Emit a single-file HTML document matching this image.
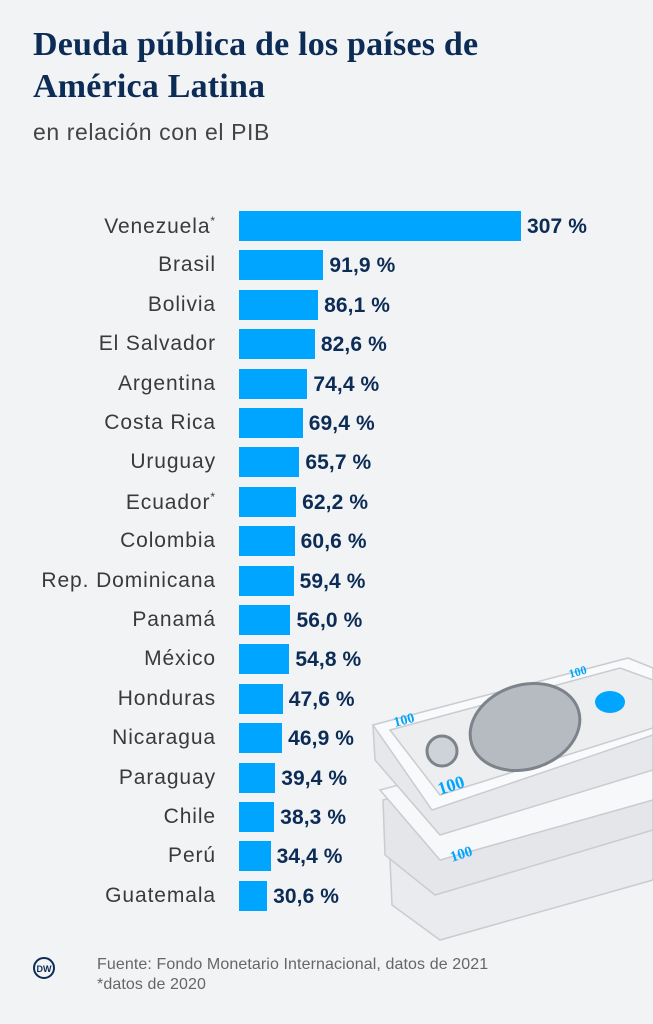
<!DOCTYPE html>
<html><head><meta charset="utf-8"><style>
body{margin:0;width:653px;height:1024px;background:#f1f3f5;position:relative;overflow:hidden;font-family:"Liberation Sans","DejaVu Sans",sans-serif}
.t{position:absolute;left:33px;font-family:"Liberation Serif",serif;font-weight:bold;color:#0c2c56;font-size:34px;letter-spacing:0.2px}
.sub{position:absolute;left:33px;top:119px;font-size:23px;letter-spacing:0.6px;color:#444}
.l{position:absolute;right:437px;font-size:21px;letter-spacing:0.9px;color:#3a3a3a;white-space:nowrap}
.b{position:absolute;left:239px;height:30px;background:#00a5ff}
.v{position:absolute;font-size:21px;letter-spacing:0.1px;font-weight:bold;color:#0c2c56;white-space:nowrap}
.f{position:absolute;left:97px;font-size:16px;letter-spacing:0.1px;color:#666}
</style></head><body>
<div class="t" style="top:26px">Deuda pública de los países de</div>
<div class="t" style="top:68px">América Latina</div>
<div class="sub">en relación con el PIB</div>
<svg style="position:absolute;left:0;top:0" width="653" height="1024">
<g stroke="#c9ccd0" stroke-width="1.5">
<polygon points="390,860 653,780 653,880 440,940 392,905" fill="#e9ebee"/>
<polygon points="383,800 653,725 653,830 435,895 385,855" fill="#e4e6e9"/>
<polygon points="380,790 640,720 653,730 653,800 440,860" fill="#f7f8f9"/>
<polygon points="373,725 628,658 653,668 653,770 440,835 375,760" fill="#e6e8eb"/>
<polygon points="373,725 628,658 653,668 653,735 432,810" fill="#f9fafb"/>
<polygon points="390,730 620,668 653,680 653,728 440,795" fill="#eceef0"/>
</g>
<ellipse cx="525" cy="727" rx="56" ry="42" transform="rotate(-18 525 727)" fill="#b6bbc1" stroke="#7d838a" stroke-width="3"/>
<circle cx="442" cy="751" r="15" fill="#cfd3d7" stroke="#7d838a" stroke-width="3"/>
<ellipse cx="610" cy="702" rx="15" ry="11" fill="#00a5ff"/>
<text x="440" y="795" transform="rotate(-18 440 795)" font-family="Liberation Serif" font-weight="bold" font-size="18" fill="#00a5ff">100</text>
<text x="395" y="727" transform="rotate(-15 395 727)" font-family="Liberation Serif" font-weight="bold" font-size="14" fill="#00a5ff">100</text>
<text x="570" y="678" transform="rotate(-15 570 678)" font-family="Liberation Serif" font-weight="bold" font-size="12" fill="#00a5ff">100</text>
<text x="452" y="862" transform="rotate(-18 452 862)" font-family="Liberation Serif" font-weight="bold" font-size="15" fill="#00a5ff">100</text>
<circle cx="44" cy="968" r="10" fill="none" stroke="#0c2c56" stroke-width="2"/>
<text x="44" y="972" text-anchor="middle" font-size="9" font-weight="bold" fill="#0c2c56" font-family="Liberation Sans">DW</text>
</svg>
<div id="c"></div>
<div class="f" style="top:956px">Fuente: Fondo Monetario Internacional, datos de 2021</div>
<div class="f" style="top:976px">*datos de 2020</div>
<script>
var d=[["Venezuela<sup style='font-size:12px'>*</sup>",307,"307 %"],["Brasil",91.9],["Bolivia",86.1],["El Salvador",82.6],["Argentina",74.4],["Costa Rica",69.4],["Uruguay",65.7],["Ecuador<sup style='font-size:12px'>*</sup>",62.2],["Colombia",60.6],["Rep. Dominicana",59.4],["Panamá",56.0],["México",54.8],["Honduras",47.6],["Nicaragua",46.9],["Paraguay",39.4],["Chile",38.3],["Perú",34.4],["Guatemala",30.6]];
var h="";d.forEach(function(r,i){var y=211+i*39.4,w=r[1]*0.9186;var v=r[2]||r[1].toFixed(1).replace(".",",")+" %";
h+='<div class="l" style="top:'+(y+3)+'px">'+r[0]+'</div><div class="b" style="top:'+y+'px;width:'+w+'px"></div><div class="v" style="top:'+(y+4)+'px;left:'+(239+w+6)+'px">'+v+'</div>';});
document.getElementById("c").innerHTML=h;
</script>
</body></html>
